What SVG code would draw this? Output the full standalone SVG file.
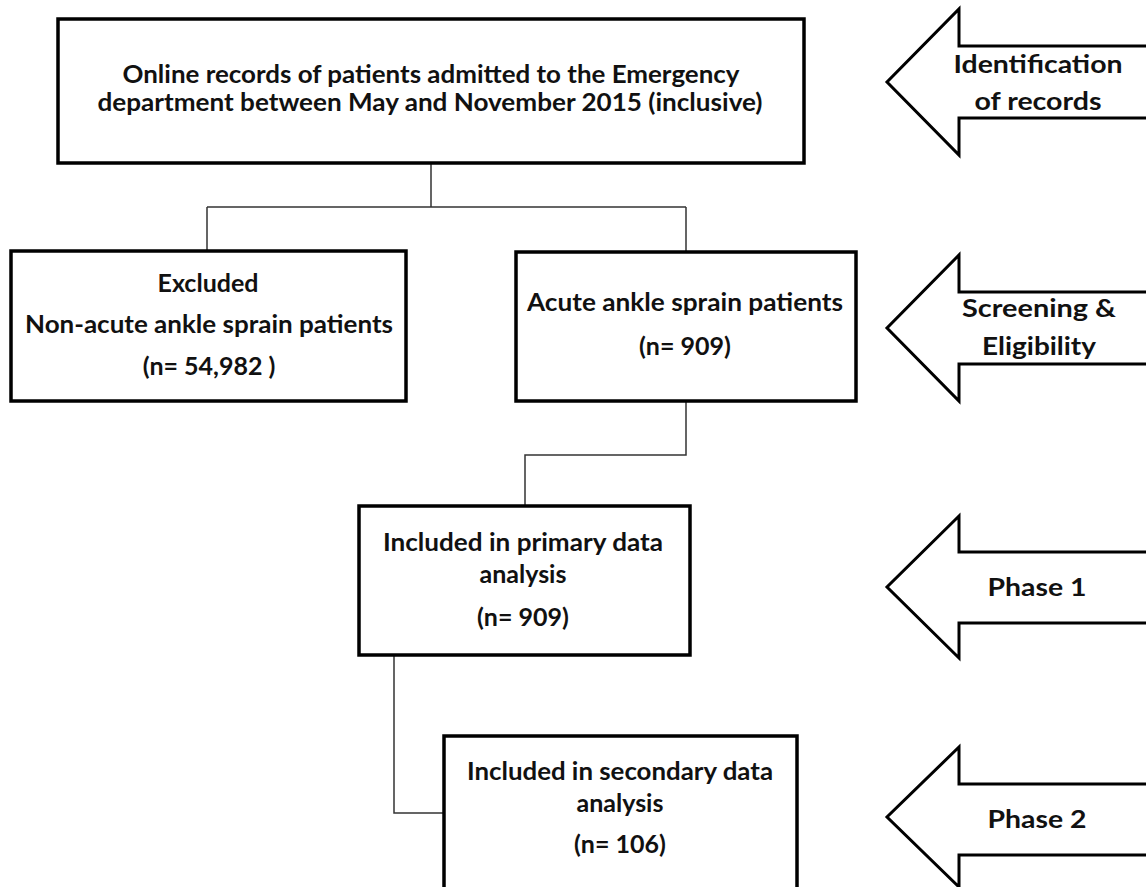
<svg xmlns="http://www.w3.org/2000/svg" width="1146" height="887" viewBox="0 0 1146 887">
<style>
.box{fill:#fff;stroke:#000;stroke-width:3.5}
.arr{fill:#fff;stroke:#000;stroke-width:3;stroke-linejoin:miter}
.con{fill:none;stroke:#333;stroke-width:1.5}
text{font-family:Lato,"Liberation Sans",sans-serif;font-weight:bold;font-size:25px;fill:#111;text-anchor:middle}
</style>
<rect width="1146" height="887" fill="#fff"/>
<g id="connectors">
<path class="con" d="M431,163 V207 M207,207 H686 M207,207 V251 M686,207 V251"/>
<path class="con" d="M686,401 V455 H525 V506"/>
<path class="con" d="M394,655 V813 H444"/>
</g>
<g id="n_records">
<rect class="box" x="58" y="19" width="746" height="144"/>
<text x="431" y="83" textLength="617" lengthAdjust="spacingAndGlyphs">Online records of patients admitted to the Emergency</text>
<text x="430" y="111" textLength="665" lengthAdjust="spacingAndGlyphs">department between May and November 2015 (inclusive)</text>
</g>
<g id="n_excluded">
<rect class="box" x="11" y="251" width="395" height="150"/>
<text x="208" y="292">Excluded</text>
<text x="209" y="333" textLength="368" lengthAdjust="spacingAndGlyphs">Non-acute ankle sprain patients</text>
<text x="209" y="375">(n= 54,982 )</text>
</g>
<g id="n_acute">
<rect class="box" x="516" y="252" width="340" height="149"/>
<text x="685" y="311" textLength="316" lengthAdjust="spacingAndGlyphs">Acute ankle sprain patients</text>
<text x="685" y="355">(n= 909)</text>
</g>
<g id="n_primary">
<rect class="box" x="359" y="506" width="331" height="149"/>
<text x="523" y="551" textLength="280" lengthAdjust="spacingAndGlyphs">Included in primary data</text>
<text x="523" y="583">analysis</text>
<text x="523" y="626">(n= 909)</text>
</g>
<g id="n_secondary">
<rect class="box" x="444" y="736" width="353" height="160"/>
<text x="620" y="780" textLength="306" lengthAdjust="spacingAndGlyphs">Included in secondary data</text>
<text x="620" y="812">analysis</text>
<text x="620" y="853">(n= 106)</text>
</g>
<g id="a_identification">
<path class="arr" d="M1150,46 H959 V9 L887,82 L959,155 V118 H1150"/>
<text x="1038" y="73" textLength="169" lengthAdjust="spacingAndGlyphs">Identification</text>
<text x="1038" y="110" textLength="127" lengthAdjust="spacingAndGlyphs">of records</text>
</g>
<g id="a_screening">
<path class="arr" d="M1150,292 H959 V255 L887,328 L959,401 V364 H1150"/>
<text x="1039" y="317" textLength="154" lengthAdjust="spacingAndGlyphs">Screening &amp;</text>
<text x="1039" y="355" textLength="114" lengthAdjust="spacingAndGlyphs">Eligibility</text>
</g>
<g id="a_phase1">
<path class="arr" d="M1150,552 H959 V516 L887,587 L959,658 V623 H1150"/>
<text x="1037" y="596" textLength="99" lengthAdjust="spacingAndGlyphs">Phase 1</text>
</g>
<g id="a_phase2">
<path class="arr" d="M1150,784 H959 V747 L887,817 L959,887 V855 H1150"/>
<text x="1037" y="828" textLength="99" lengthAdjust="spacingAndGlyphs">Phase 2</text>
</g>
</svg>
